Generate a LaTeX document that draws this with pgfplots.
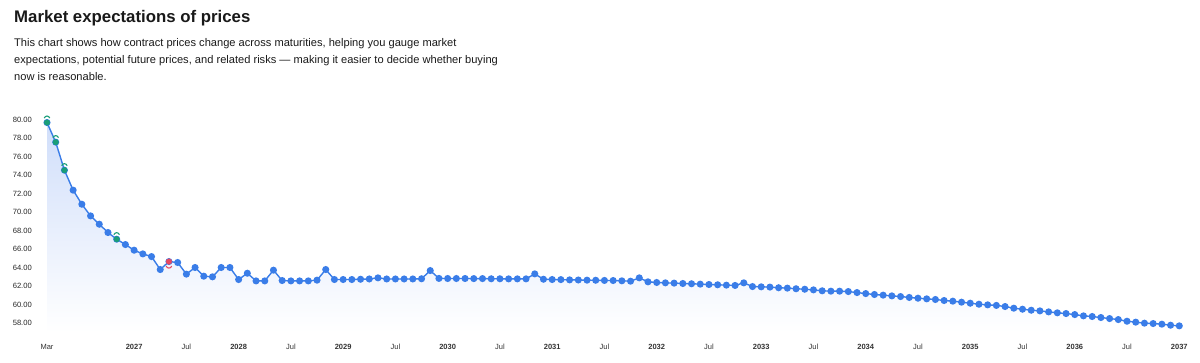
\documentclass[border=0pt]{standalone}
\usepackage{fontspec}
\setmainfont{Liberation Sans}
\usepackage{pgfplots}
\pgfplotsset{compat=1.18}
\usepackage{pgfplotstable}

\definecolor{lineblue}{RGB}{58,125,232}
\definecolor{mkgreen}{RGB}{26,158,120}
\definecolor{mkred}{RGB}{232,72,96}
\definecolor{fillblue}{RGB}{208,222,250}
\definecolor{txt}{RGB}{25,25,25}

\pgfdeclareplotmark{uparc}{%
  \pgfsetlinewidth{1.1pt}%
  \pgfpathmoveto{\pgfqpoint{-2.8pt}{4.5pt}}%
  \pgfpathcurveto{\pgfqpoint{-1.6pt}{7.2pt}}{\pgfqpoint{1.6pt}{7.2pt}}{\pgfqpoint{2.8pt}{4.5pt}}%
  \pgfusepathqstroke}
\pgfdeclareplotmark{downarc}{%
  \pgfsetlinewidth{1.1pt}%
  \pgfpathmoveto{\pgfqpoint{-2.8pt}{-4.5pt}}%
  \pgfpathcurveto{\pgfqpoint{-1.6pt}{-7.2pt}}{\pgfqpoint{1.6pt}{-7.2pt}}{\pgfqpoint{2.8pt}{-4.5pt}}%
  \pgfusepathqstroke}

\pgfplotstableread{
i v
0 79.71
1 77.59
2 74.56
3 72.40
4 70.88
5 69.62
6 68.72
7 67.82
8 67.10
9 66.52
10 65.91
11 65.51
12 65.22
13 63.82
14 64.68
15 64.58
16 63.32
17 64.04
18 63.10
19 63.03
20 64.04
21 64.04
22 62.74
23 63.42
24 62.59
25 62.59
26 63.75
27 62.63
28 62.59
29 62.59
30 62.59
31 62.67
32 63.82
33 62.74
34 62.74
35 62.74
36 62.77
37 62.80
38 62.92
39 62.80
40 62.80
41 62.80
42 62.80
43 62.82
44 63.71
45 62.86
46 62.85
47 62.85
48 62.85
49 62.84
50 62.84
51 62.82
52 62.82
53 62.81
54 62.81
55 62.81
56 63.35
57 62.77
58 62.74
59 62.73
60 62.70
61 62.69
62 62.67
63 62.66
64 62.64
65 62.63
66 62.60
67 62.56
68 62.92
69 62.49
70 62.42
71 62.38
72 62.35
73 62.31
74 62.28
75 62.24
76 62.20
77 62.17
78 62.13
79 62.10
80 62.38
81 61.98
82 61.95
83 61.92
84 61.85
85 61.81
86 61.74
87 61.69
88 61.62
89 61.52
90 61.48
91 61.48
92 61.44
93 61.33
94 61.22
95 61.12
96 61.05
97 60.97
98 60.90
99 60.80
100 60.72
101 60.65
102 60.58
103 60.47
104 60.40
105 60.29
106 60.18
107 60.07
108 60.00
109 59.94
110 59.82
111 59.64
112 59.53
113 59.42
114 59.35
115 59.24
116 59.14
117 59.06
118 58.95
119 58.81
120 58.74
121 58.63
122 58.52
123 58.41
124 58.23
125 58.13
126 58.02
127 57.98
128 57.91
129 57.80
130 57.73
}\prices

\pgfplotstableread{
i v
0 79.71
1 77.59
2 74.56
8 67.10
}\greenpts

\pgfplotstableread{
i v
14 64.68
}\redpts

\begin{document}
\begin{tikzpicture}
\path (0pt,0pt) rectangle (1200pt,-362pt);
\node[anchor=base west, inner sep=0pt, font=\fontsize{16.8}{20}\selectfont\bfseries, text=txt] at (14pt,-22.7pt) {Market expectations of prices};
\node[anchor=base west, inner sep=0pt, font=\fontsize{11.1}{13}\selectfont, text=txt] at (14pt,-46.7pt) {This chart shows how contract prices change across maturities, helping you gauge market};
\node[anchor=base west, inner sep=0pt, font=\fontsize{11.1}{13}\selectfont, text=txt] at (14pt,-63.3pt) {expectations, potential future prices, and related risks — making it easier to decide whether buying};
\node[anchor=base west, inner sep=0pt, font=\fontsize{11.1}{13}\selectfont, text=txt] at (14pt,-80pt) {now is reasonable.};

\begin{axis}[
  at={(38.3pt,-332.6pt)}, anchor=south west,
  scale only axis, width=1149.7pt, height=226.6pt,
  xmin=-1, xmax=131, ymin=57, ymax=81.5,
  axis line style={draw=none},
  major tick length=0pt,
  clip=false,
  ytick={58,60,...,80},
  yticklabel style={font=\fontsize{7.6}{9}\selectfont, text=black!85, inner sep=0pt, anchor=east, xshift=-6.3pt,
    /pgf/number format/.cd, fixed, fixed zerofill, precision=2, assume math mode=true},
  xtick={0,10,16,22,28,34,40,46,52,58,64,70,76,82,88,94,100,106,112,118,124,130},
  xticklabels={Mar,\textbf{2027},Jul,\textbf{2028},Jul,\textbf{2029},Jul,\textbf{2030},Jul,\textbf{2031},Jul,\textbf{2032},Jul,\textbf{2033},Jul,\textbf{2034},Jul,\textbf{2035},Jul,\textbf{2036},Jul,\textbf{2037}},
  xticklabel style={font=\fontsize{7.5}{9}\selectfont, text=black!80, inner sep=0pt, anchor=base, yshift=-16.5pt},
]
\addplot[draw=none, top color=fillblue, bottom color=white, forget plot] table[x=i,y=v]{\prices} -- (axis cs:130,57) -- (axis cs:0,57) -- cycle;
\addplot[color=lineblue, line width=1.4pt, mark=*, mark size=2.8pt, mark options={solid, fill=lineblue, draw=none}] table[x=i,y=v]{\prices};
\addplot[color=mkgreen, only marks, mark=*, mark size=2.8pt, mark options={solid, fill=mkgreen, draw=none}] table[x=i,y=v]{\greenpts};
\addplot[color=mkgreen, only marks, mark=uparc, mark options={solid, draw=mkgreen}] table[x=i,y=v]{\greenpts};
\addplot[color=mkred, only marks, mark=*, mark size=2.8pt, mark options={solid, fill=mkred, draw=none}] table[x=i,y=v]{\redpts};
\addplot[color=mkred, only marks, mark=downarc, mark options={solid, draw=mkred}] table[x=i,y=v]{\redpts};
\end{axis}
\end{tikzpicture}
\end{document}
